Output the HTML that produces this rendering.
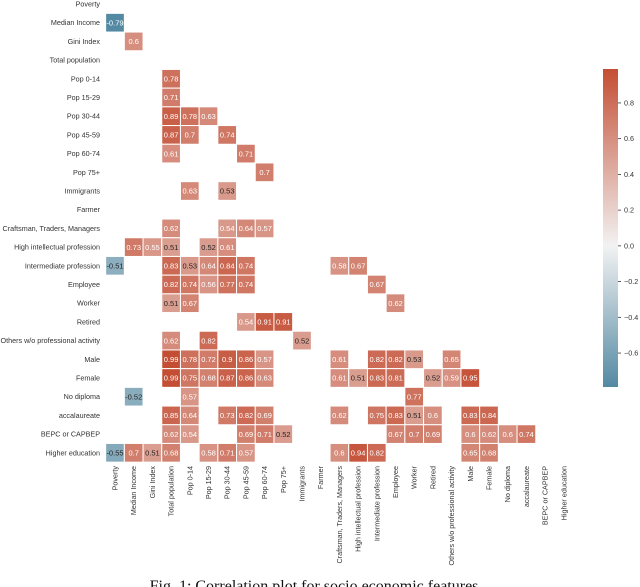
<!DOCTYPE html>
<html><head><meta charset="utf-8"><style>
html,body{margin:0;padding:0;background:#fff;}
svg{display:block;font-family:"Liberation Sans",sans-serif;}
</style></head><body>
<svg id="chart" width="640" height="587" viewBox="0 0 640 587">
<g id="cells"></g>
<g id="ylabels"></g>
<g id="xlabels"></g>
<g id="cbar"></g>
<text x="316" y="591" text-anchor="middle" font-family="Liberation Serif, serif" font-size="16" fill="#111">Fig. 1: Correlation plot for socio economic features.</text>
</svg>
<script>
const features = ["Poverty","Median Income","Gini Index","Total population","Pop 0-14","Pop 15-29","Pop 30-44","Pop 45-59","Pop 60-74","Pop 75+","Immigrants","Farmer","Craftsman, Traders, Managers","High intellectual profession","Intermediate profession","Employee","Worker","Retired","Others w/o professional activity","Male","Female","No diploma","accalaureate","BEPC or CAPBEP","Higher education"];
const cellRows = [1,2,4,5,6,6,6,7,7,7,8,8,9,10,10,12,12,12,12,13,13,13,13,13,14,14,14,14,14,14,14,14,15,15,15,15,15,15,16,16,16,17,17,17,18,18,18,19,19,19,19,19,19,19,19,19,19,19,20,20,20,20,20,20,20,20,20,20,20,20,20,21,21,21,22,22,22,22,22,22,22,22,22,22,22,22,23,23,23,23,23,23,23,23,23,23,23,23,24,24,24,24,24,24,24,24,24,24,24,24];
const cellCols = [0,1,3,3,3,4,5,3,4,6,3,7,8,4,6,3,6,7,8,1,2,3,5,6,0,3,4,5,6,7,12,13,3,4,5,6,7,14,3,4,15,7,8,9,3,5,10,3,4,5,6,7,8,12,14,15,16,18,3,4,5,6,7,8,12,13,14,15,17,18,19,1,4,16,3,4,6,7,8,12,14,15,16,17,19,20,3,4,7,8,9,15,16,17,19,20,21,22,0,1,2,3,5,6,7,12,13,14,19,20];
const cellValues = [-0.79,0.6,0.78,0.71,0.89,0.78,0.63,0.87,0.7,0.74,0.61,0.71,0.7,0.63,0.53,0.62,0.54,0.64,0.57,0.73,0.55,0.51,0.52,0.61,-0.51,0.83,0.53,0.64,0.84,0.74,0.58,0.67,0.82,0.74,0.56,0.77,0.74,0.67,0.51,0.67,0.62,0.54,0.91,0.91,0.62,0.82,0.52,0.99,0.78,0.72,0.9,0.86,0.57,0.61,0.82,0.82,0.53,0.65,0.99,0.75,0.68,0.87,0.86,0.63,0.61,0.51,0.83,0.81,0.52,0.59,0.95,-0.52,0.57,0.77,0.85,0.64,0.73,0.82,0.69,0.62,0.75,0.83,0.51,0.6,0.83,0.84,0.62,0.54,0.69,0.71,0.52,0.67,0.7,0.69,0.6,0.62,0.6,0.74,-0.55,0.7,0.51,0.68,0.58,0.71,0.57,0.6,0.94,0.82,0.65,0.68];
const cbarTicks = [0.8,0.6,0.4,0.2,0.0,-0.2,-0.4,-0.6];
const vmin = -0.79, vmax = 0.99;

const NS = "http://www.w3.org/2000/svg";
const X0 = 115, Y0 = 4, P = 18.7;
const xPos = c => X0 + c * P;
const yPos = r => Y0 + r * P;
const blue = [84,137,163], mid = [242,242,242], red = [196,78,52];
function color(v){
  let a = mid, b, t;
  if (v < 0){ b = blue; t = Math.min(1, v / vmin); }
  else { b = red; t = Math.min(1, v / vmax); }
  return a.map((x,i)=>Math.round(x + (b[i]-x)*t));
}
function darkText(v){ return v >= 0 ? v < 0.535 : v > -0.6; }
function mk(tag, attrs, parent){
  const e = document.createElementNS(NS, tag);
  for (const k in attrs) e.setAttribute(k, attrs[k]);
  parent.appendChild(e); return e;
}
const cells = document.getElementById('cells');
for (let i = 0; i < cellValues.length; i++){
  const v = cellValues[i], c = color(v);
  const cx = xPos(cellCols[i]), cy = yPos(cellRows[i]);
  const r = mk('rect', {x:cx-P/2, y:cy-P/2, width:P, height:P, fill:`rgb(${c})`, stroke:'#fff', 'stroke-width':1}, cells);
  
  
  const t = mk('text', {x:cx, y:cy+2.7, 'text-anchor':'middle', 'font-size':7.5, fill: darkText(v) ? '#262626' : '#fff'}, cells);
  
  
  t.textContent = String(v);
}
const yl = document.getElementById('ylabels'), xl = document.getElementById('xlabels');
features.forEach((f, i) => {
  const t = mk('text', {x:100, y:yPos(i)+2.5, 'text-anchor':'end', 'font-size':7.2, fill:'#333'}, yl);
  
  
  t.textContent = f;
  const u = mk('text', {transform:`translate(${xPos(i)+2.5},466) rotate(-90)`, 'text-anchor':'end', 'font-size':7.2, fill:'#333'}, xl);
  
  
  u.textContent = f;
});
const cb = document.getElementById('cbar');
const cbTop = 69, cbBot = 387, cbX = 603, cbW = 15;
const cbY = v => cbTop + (vmax - v) / (vmax - vmin) * (cbBot - cbTop);
const defs = mk('defs', {}, cb);
const grad = mk('linearGradient', {id:'cg', x1:0, y1:0, x2:0, y2:1}, defs);
[vmax, 0, vmin].forEach(v => {
  mk('stop', {offset: (vmax - v)/(vmax - vmin), 'stop-color': `rgb(${color(v)})`}, grad);
});
const cr = mk('rect', {x:cbX, y:cbTop, width:cbW, height:cbBot-cbTop, fill:'url(#cg)'}, cb);


cbarTicks.forEach(v => {
  const y = cbY(v);
  mk('line', {x1:cbX+cbW, x2:cbX+cbW+3, y1:y, y2:y, stroke:'#333', 'stroke-width':0.8}, cb);
  const t = mk('text', {x:cbX+cbW+6, y:y+2.5, 'font-size':7.2, fill:'#333'}, cb);
  
  
  t.textContent = (v < 0 ? '\u2212' : '') + Math.abs(v).toFixed(1);
});
</script>
</body></html>
